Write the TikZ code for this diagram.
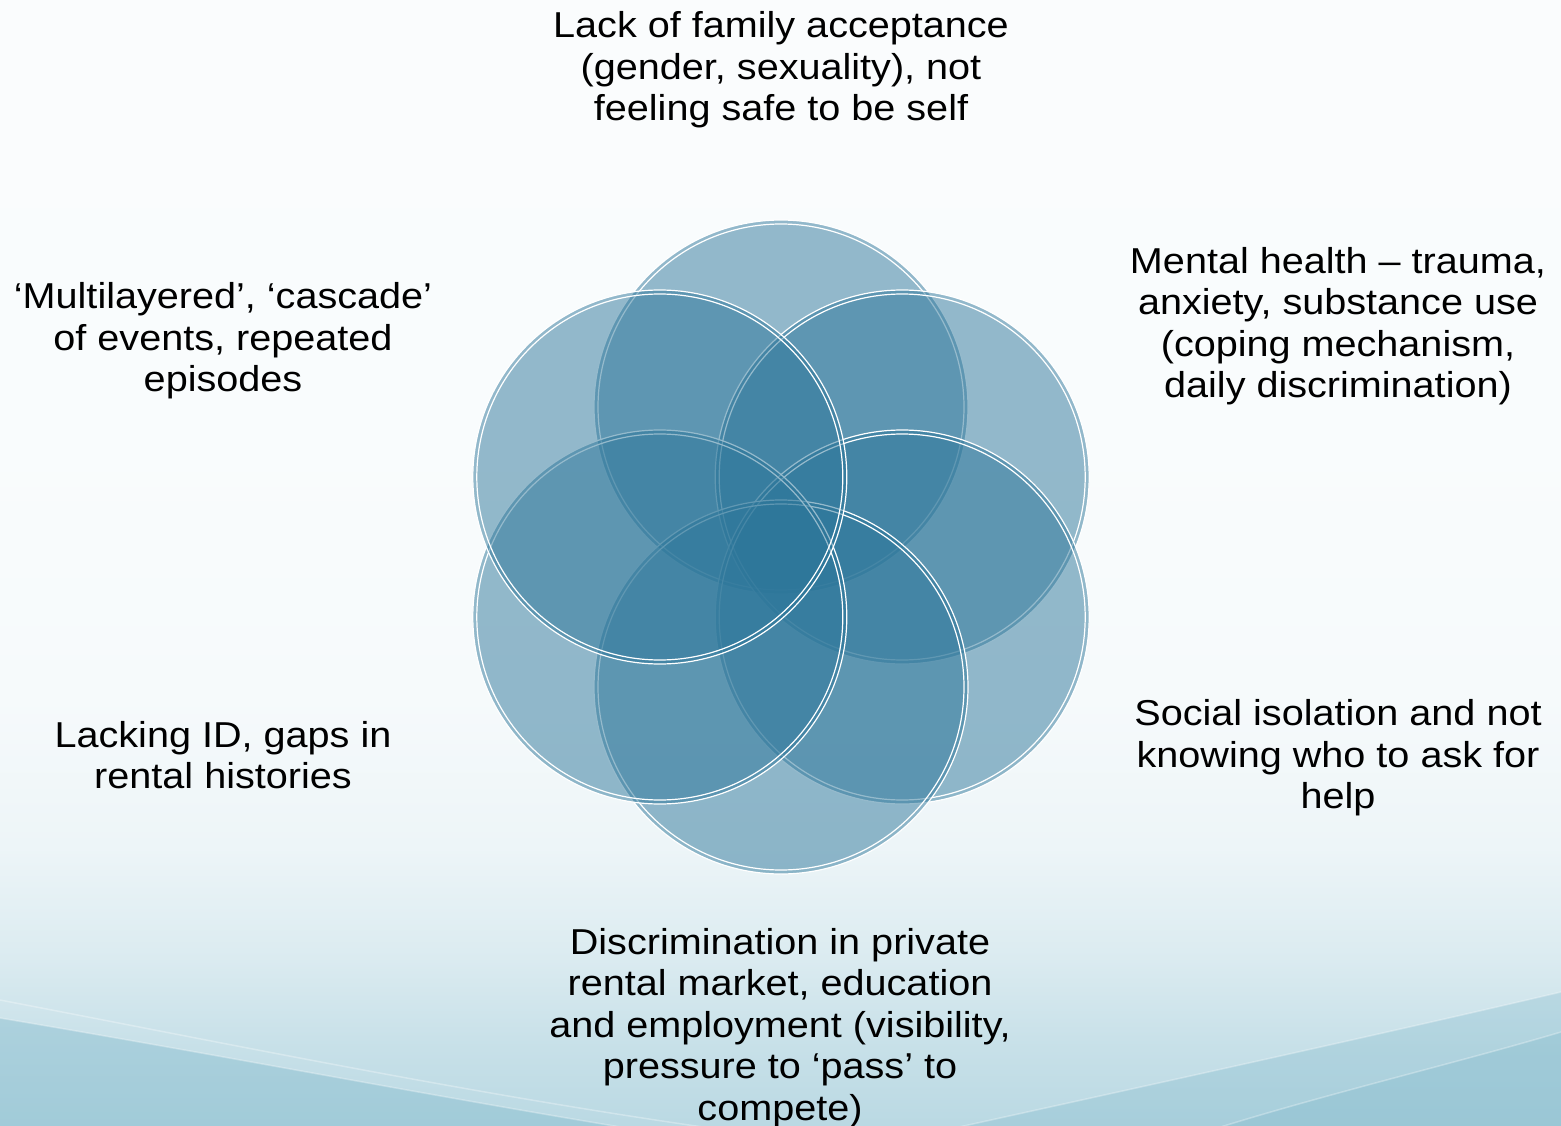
\documentclass[tikz,border=0pt]{standalone}
\usepackage{fontspec}
\setmainfont{Liberation Sans}[FakeStretch=1.1]
\definecolor{circ}{HTML}{2C769A}
\definecolor{swoosh}{HTML}{7DB7CA}
\pgfdeclareverticalshading{bgshade}{100bp}{%
  color(0bp)=(white!47!swoosh);
  color(25bp)=(white!47!swoosh);
  color(28.8bp)=(white!58!swoosh);
  color(32.4bp)=(white!72!swoosh);
  color(37.3bp)=(white!86!swoosh);
  color(43.9bp)=(white!93!swoosh);
  color(55bp)=(white!95.5!swoosh);
  color(75bp)=(white!96!swoosh);
  color(100bp)=(white!96!swoosh)}
\tikzset{
  petal/.style={fill=circ, fill opacity=0.5},
  ring/.style={draw=white, line width=1.2pt},
  lbl/.style={align=center, font=\fontsize{36}{41.5}\selectfont, text=black, inner sep=0pt},
  swooshline/.style={draw=white, draw opacity=0.3, line width=1.5pt}
}
\begin{document}
\begin{tikzpicture}[x=1pt, y=-1pt]
  % background
  \shade[shading=bgshade] (0,0) rectangle (1561,1126);
  \useasboundingbox (0,0) rectangle (1561,1126);
  \begin{scope}
    \clip (0,0) rectangle (1561,1126);
    \fill[swoosh, opacity=0.4] (0,1018) .. controls (250,1060) and (450,1100) .. (700,1140) -- (0,1140) -- cycle;
    \fill[swoosh, opacity=0.3] (1561,992) .. controls (1400,1030) and (1150,1085) .. (900,1140) -- (1561,1140) -- cycle;
    \fill[swoosh, opacity=0.3] (1561,1032) .. controls (1450,1065) and (1300,1100) .. (1180,1140) -- (1561,1140) -- cycle;
    \draw[swooshline] (0,1018) .. controls (250,1060) and (450,1100) .. (700,1140);
    \draw[swooshline] (0,1000) .. controls (250,1048) and (500,1100) .. (760,1135);
    \draw[swooshline] (1561,992) .. controls (1400,1030) and (1150,1085) .. (900,1140);
    \draw[swooshline] (1561,1032) .. controls (1450,1065) and (1300,1100) .. (1180,1140);
  \end{scope}
  % circle centres
  \coordinate (ct) at (781,407);
  \coordinate (cur) at (902.2,477);
  \coordinate (clr) at (902.2,617);
  \coordinate (cb) at (781,687);
  \coordinate (cll) at (659.8,617);
  \coordinate (cul) at (659.8,477);
  \foreach \c in {ct,cur,clr,cb,cll,cul}{
    \fill[petal] (\c) circle[radius=187pt];
    \draw[ring] (\c) circle[radius=187pt];
    \draw[ring] (\c) circle[radius=183pt];
  }
  % labels
  \node[lbl] (top) at (781,70) {Lack of family acceptance\\(gender, sexuality), not\\feeling safe to be self};
  \node[lbl] (ul) at (223,341) {‘Multilayered’, ‘cascade’\\of events, repeated\\episodes};
  \node[lbl] (ur) at (1338,326) {Mental health – trauma,\\anxiety, substance use\\(coping mechanism,\\daily discrimination)};
  \node[lbl] (lr) at (1338,758) {Social isolation and not\\knowing who to ask for\\help};
  \node[lbl] (ll) at (223,755) {Lacking ID, gaps in\\rental histories};
  \node[lbl] (bot) at (780,1028) {Discrimination in private\\rental market, education\\and employment (visibility,\\pressure to ‘pass’ to\\compete)};
\end{tikzpicture}
\end{document}
